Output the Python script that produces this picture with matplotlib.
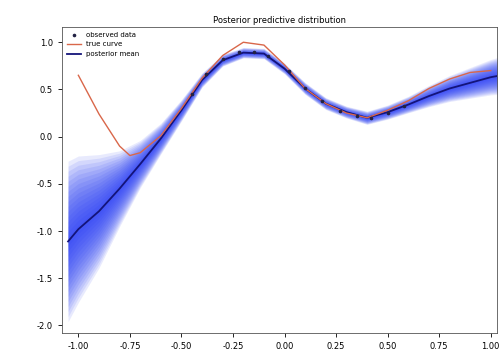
import numpy as np
import matplotlib
matplotlib.use("Agg")
import matplotlib.pyplot as plt

# grid of x positions for the posterior summary
x_grid = [-1.05, -1.0, -0.9, -0.8, -0.7, -0.6, -0.5, -0.4, -0.3, -0.2, -0.1,
          0.0, 0.1, 0.2, 0.3, 0.4, 0.5, 0.6, 0.7, 0.8, 0.9, 1.0, 1.05]
post_mean = [-1.11, -0.98, -0.79, -0.55, -0.29, -0.02, 0.28, 0.60, 0.81, 0.89, 0.88,
             0.72, 0.51, 0.35, 0.26, 0.20, 0.26, 0.34, 0.43, 0.51, 0.57, 0.63, 0.65]
post_sd = [0.34, 0.31, 0.24, 0.16, 0.10, 0.065, 0.045, 0.03, 0.025, 0.022, 0.022,
           0.022, 0.025, 0.025, 0.025, 0.028, 0.03, 0.035, 0.045, 0.055, 0.065, 0.075, 0.08]

# true function
x_true = [-1.0, -0.9, -0.8, -0.75, -0.7, -0.6, -0.5, -0.4, -0.3, -0.2, -0.1,
          0.0, 0.1, 0.2, 0.3, 0.4, 0.5, 0.6, 0.7, 0.8, 0.9, 1.0]
y_true = [0.65, 0.24, -0.10, -0.20, -0.17, 0.01, 0.30, 0.62, 0.86, 1.00, 0.97,
          0.76, 0.51, 0.35, 0.25, 0.20, 0.28, 0.38, 0.51, 0.61, 0.68, 0.70]

# observed points
x_obs = [-0.45, -0.38, -0.3, -0.22, -0.15, -0.08, 0.02, 0.1, 0.18, 0.27, 0.35, 0.42, 0.5, 0.58]
y_obs = [0.45, 0.66, 0.82, 0.90, 0.90, 0.85, 0.70, 0.52, 0.38, 0.27, 0.22, 0.20, 0.25, 0.32]

xticks = [-1.0, -0.75, -0.5, -0.25, 0.0, 0.25, 0.5, 0.75, 1.0]
yticks = [1.0, 0.5, 0.0, -0.5, -1.0, -1.5, -2.0]

fig = plt.figure(figsize=(5.03, 3.62), dpi=100)
ax = fig.add_axes([0.123, 0.08, 0.865, 0.845])

m = np.array(post_mean)
s = np.array(post_sd)
# fan of quantile bands
for k in np.linspace(2.5, 0.15, 16):
    ax.fill_between(x_grid, m - k * s, m + k * s, color="#1f35f5", alpha=0.10, lw=0)

ax.plot(x_grid, post_mean, color="#14147a", lw=1.3, label="posterior mean")
ax.plot(x_true, y_true, color="#d9674a", lw=1.0, label="true curve")
ax.plot(x_obs, y_obs, "o", color="#222244", ms=1.6, label="observed data")

ax.set_xlim(-1.08, 1.03)
ax.set_ylim(-2.08, 1.16)
ax.set_xticks(xticks)
ax.set_xticklabels([f"{v:.2f}" for v in xticks])
ax.set_yticks(yticks)
ax.set_yticklabels([f"{v:.1f}" for v in yticks])
ax.tick_params(labelsize=6, length=3, width=0.6)
for sp in ax.spines.values():
    sp.set_linewidth(0.6)
    sp.set_color("#555555")
ax.set_title("Posterior predictive distribution", fontsize=6, pad=3)

h, l = ax.get_legend_handles_labels()
ax.legend([h[2], h[1], h[0]], [l[2], l[1], l[0]], loc="upper left", fontsize=5,
          frameon=False, handlelength=2.0, borderaxespad=0.3)

fig.savefig("out.png", dpi=100)
